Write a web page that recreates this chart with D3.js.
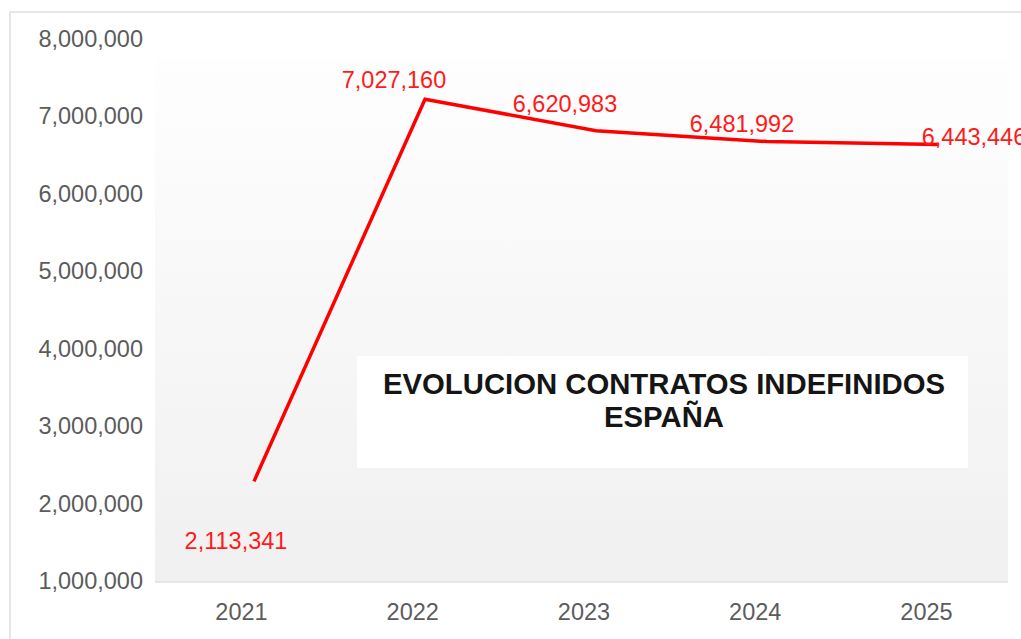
<!DOCTYPE html>
<html>
<head>
<meta charset="utf-8">
<script src="https://cdn.jsdelivr.net/npm/d3@7"></script>
<style>
  html, body { margin: 0; padding: 0; background: #ffffff; }
  svg { display: block; }
  text { font-family: "Liberation Sans", Arial, sans-serif; }
</style>
</head>
<body>
<svg id="chart" width="1021" height="639"></svg>
<script>
// ---- data ----
const years = ["2021", "2022", "2023", "2024", "2025"];
const contratos = [2113341, 7027160, 6620983, 6481992, 6443446];
const yTicks = [1000000, 2000000, 3000000, 4000000, 5000000, 6000000, 7000000, 8000000];
const titleLines = ["EVOLUCION CONTRATOS INDEFINIDOS", "ESPAÑA"];

// label nudges (pixels) relative to each point, as placed in the original
const labelDx = [-18, -31, -31, -25, 36];
const labelDy = [59, -19, -27, -18, -8];

const W = 1021, H = 639;
const svg = d3.select("#chart");
const fmt = d3.format(",");

// frame
svg.append("path")
  .attr("d", d3.line()([[10, H], [10, 12], [W, 12]]))
  .attr("fill", "none").attr("stroke", "#e6e6e6").attr("stroke-width", 2);

// plot background gradient
const defs = svg.append("defs");
const grad = defs.append("linearGradient").attr("id", "bg")
  .attr("x1", 0).attr("y1", 0).attr("x2", 0).attr("y2", 1);
grad.append("stop").attr("offset", "0%").attr("stop-color", "#fefefe");
grad.append("stop").attr("offset", "100%").attr("stop-color", "#f0f0f0");

const plot = { left: 155, top: 58, right: 1008, bottom: 583 };
svg.append("rect")
  .attr("x", plot.left).attr("y", plot.top)
  .attr("width", plot.right - plot.left).attr("height", plot.bottom - plot.top)
  .attr("fill", "url(#bg)");
svg.append("rect")
  .attr("x", plot.left).attr("y", plot.bottom - 2)
  .attr("width", plot.right - plot.left).attr("height", 2)
  .attr("fill", "#e6e6e6");

// scales
const x = d3.scalePoint().domain(years).range([241, 926]);
const y = d3.scaleLinear().domain([1000000, 8000000]).range([581, 39]);
// the series layer is drawn slightly offset from the axes, as in the original
const xLine = d3.scalePoint().domain(years).range([254, 938]);
const yLine = d3.scaleLinear().domain([1000000, 8000000]).range([568, 23.5]);

// y axis
const yAxis = svg.append("g").attr("transform", "translate(150,0)")
  .call(d3.axisLeft(y).tickValues(yTicks).tickFormat(fmt).tickSize(0).tickPadding(7));
yAxis.select(".domain").remove();
yAxis.selectAll("text")
  .attr("fill", "#5c5c5c").style("font-size", "23.5px")
  .style("font-family", "'Liberation Sans', Arial, sans-serif");

// x axis
const xAxis = svg.append("g").attr("transform", `translate(0,${plot.bottom})`)
  .call(d3.axisBottom(x).tickSize(0).tickPadding(20));
xAxis.select(".domain").remove();
xAxis.selectAll("text")
  .attr("fill", "#5c5c5c").style("font-size", "23.5px")
  .style("font-family", "'Liberation Sans', Arial, sans-serif");

// title box
svg.append("rect")
  .attr("x", 357).attr("y", 356).attr("width", 611).attr("height", 112)
  .attr("fill", "#ffffff");
svg.append("text")
  .attr("x", 663).attr("y", 394)
  .attr("text-anchor", "middle")
  .attr("fill", "#151515")
  .style("font-size", "29.3px").style("font-weight", "bold")
  .selectAll("tspan").data(titleLines).join("tspan")
  .attr("x", 664).attr("dy", (d, i) => i === 0 ? 0 : 33)
  .text(d => d);

// line
const pts = years.map((yr, i) => ({ yr, v: contratos[i], i }));
svg.append("path")
  .datum(pts)
  .attr("fill", "none")
  .attr("stroke", "#ff0000")
  .attr("stroke-width", 3.5)
  .attr("stroke-linejoin", "miter")
  .attr("d", d3.line().x(d => xLine(d.yr)).y(d => yLine(d.v)));

// data labels
svg.append("g").selectAll("text").data(pts).join("text")
  .attr("x", d => xLine(d.yr) + labelDx[d.i])
  .attr("y", d => yLine(d.v) + labelDy[d.i])
  .attr("dy", "0.35em")
  .attr("text-anchor", "middle")
  .attr("fill", "#ff1a1a")
  .style("font-size", "23.5px")
  .text(d => fmt(d.v));
</script>
</body>
</html>
